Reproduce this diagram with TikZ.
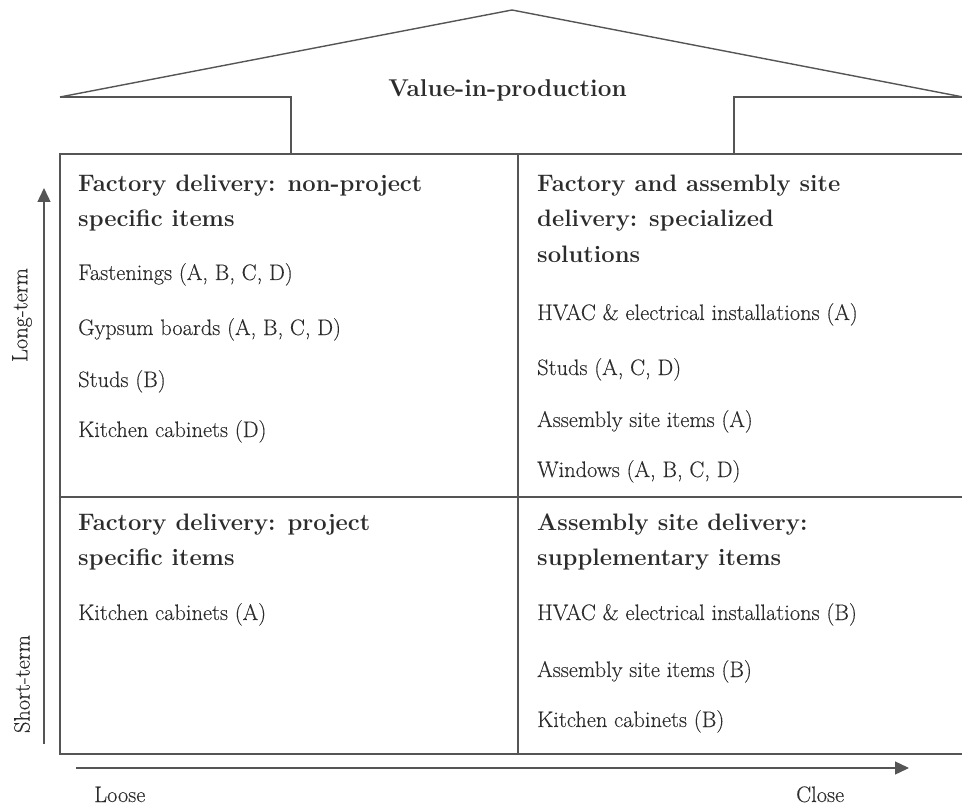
\documentclass[tikz,border=0pt]{standalone}
\usepackage{fontspec}
\setmainfont{Latin Modern Roman}[FakeBold=0.25, BoldFont={Latin Modern Roman/B}, BoldFeatures={FakeBold=0}]
\usetikzlibrary{arrows.meta}
\definecolor{ink}{HTML}{2C2C2C}
\definecolor{linec}{HTML}{555555}
\tikzset{
  ln/.style={draw=linec, line width=1.4pt},
  axisarrow/.style={draw=linec, line width=1.4pt, -{Triangle[length=14pt,width=13pt]}},
  ttl/.style={anchor=base west, inner sep=0pt, text=ink, font=\fontsize{23.8}{28}\selectfont\bfseries},
  itm/.style={anchor=base west, inner sep=0pt, text=ink, font=\fontsize{22.4}{27}\selectfont},
  axl/.style={inner sep=0pt, text=ink, font=\fontsize{22.4}{27}\selectfont},
}
\begin{document}
\begin{tikzpicture}[x=1pt,y=-1pt]
\useasboundingbox (0,0) rectangle (962,805);
% roof
\coordinate (eaveL) at (60,97);
\coordinate (apex) at (512,10);
\coordinate (eaveR) at (963,97);
\coordinate (wallL) at (291,97);
\coordinate (wallR) at (734,97);
\draw[ln] (eaveL) -- (apex) -- (eaveR);
\draw[ln] (eaveL) -- (wallL) -- (291,154);
\draw[ln] (eaveR) -- (wallR) -- (734,154);
\node[inner sep=0pt, anchor=base, text=ink, font=\fontsize{24.3}{28}\selectfont\bfseries] (vip) at (507.5,97) {Value-in-production};
% box
\coordinate (boxTL) at (60,154);
\coordinate (boxBR) at (963,754);
\draw[ln] (963,154) -- (boxTL) -- (60,754) -- (boxBR);
\draw[ln] (518,154) -- (518,754);
\draw[ln] (60,497) -- (963,497);
% axes
\coordinate (vA) at (44,744);
\coordinate (vB) at (44,188);
\coordinate (hA) at (76,768);
\coordinate (hB) at (909,768);
\draw[axisarrow] (vA) -- (vB);
\draw[axisarrow] (hA) -- (hB);
\node[axl, rotate=90] (long) at (22,315) {Long-term};
\node[axl, rotate=90] (short) at (22,684) {Short-term};
\node[itm] (loose) at (94,802) {Loose};
\node[itm] (close) at (796,802) {Close};
% top-left
\node[ttl] (tl1) at (78,192) {Factory delivery: non-project};
\node[ttl] (tl2) at (78,227) {specific items};
\node[itm] (tl3) at (78,280) {Fastenings (A, B, C, D)};
\node[itm] (tl4) at (78,335) {Gypsum boards (A, B, C, D)};
\node[itm] (tl5) at (78,387) {Studs (B)};
\node[itm] (tl6) at (78,437) {Kitchen cabinets (D)};
% top-right
\node[ttl] (tr1) at (537,192) {Factory and assembly site};
\node[ttl] (tr2) at (537,227) {delivery: specialized};
\node[ttl] (tr3) at (537,263) {solutions};
\node[itm] (tr4) at (537,320) {HVAC \& electrical installations (A)};
\node[itm] (tr5) at (537,375) {Studs (A, C, D)};
\node[itm] (tr6) at (537,427) {Assembly site items (A)};
\node[itm] (tr7) at (537,477) {Windows (A, B, C, D)};
% bottom-left
\node[ttl] (bl1) at (78,530) {Factory delivery: project};
\node[ttl] (bl2) at (78,565) {specific items};
\node[itm] (bl3) at (78,620) {Kitchen cabinets (A)};
% bottom-right
\node[ttl] (br1) at (537,530) {Assembly site delivery:};
\node[ttl] (br2) at (537,565) {supplementary items};
\node[itm] (br3) at (537,620) {HVAC \& electrical installations (B)};
\node[itm] (br4) at (537,677) {Assembly site items (B)};
\node[itm] (br5) at (537,727) {Kitchen cabinets (B)};
\end{tikzpicture}
\end{document}
